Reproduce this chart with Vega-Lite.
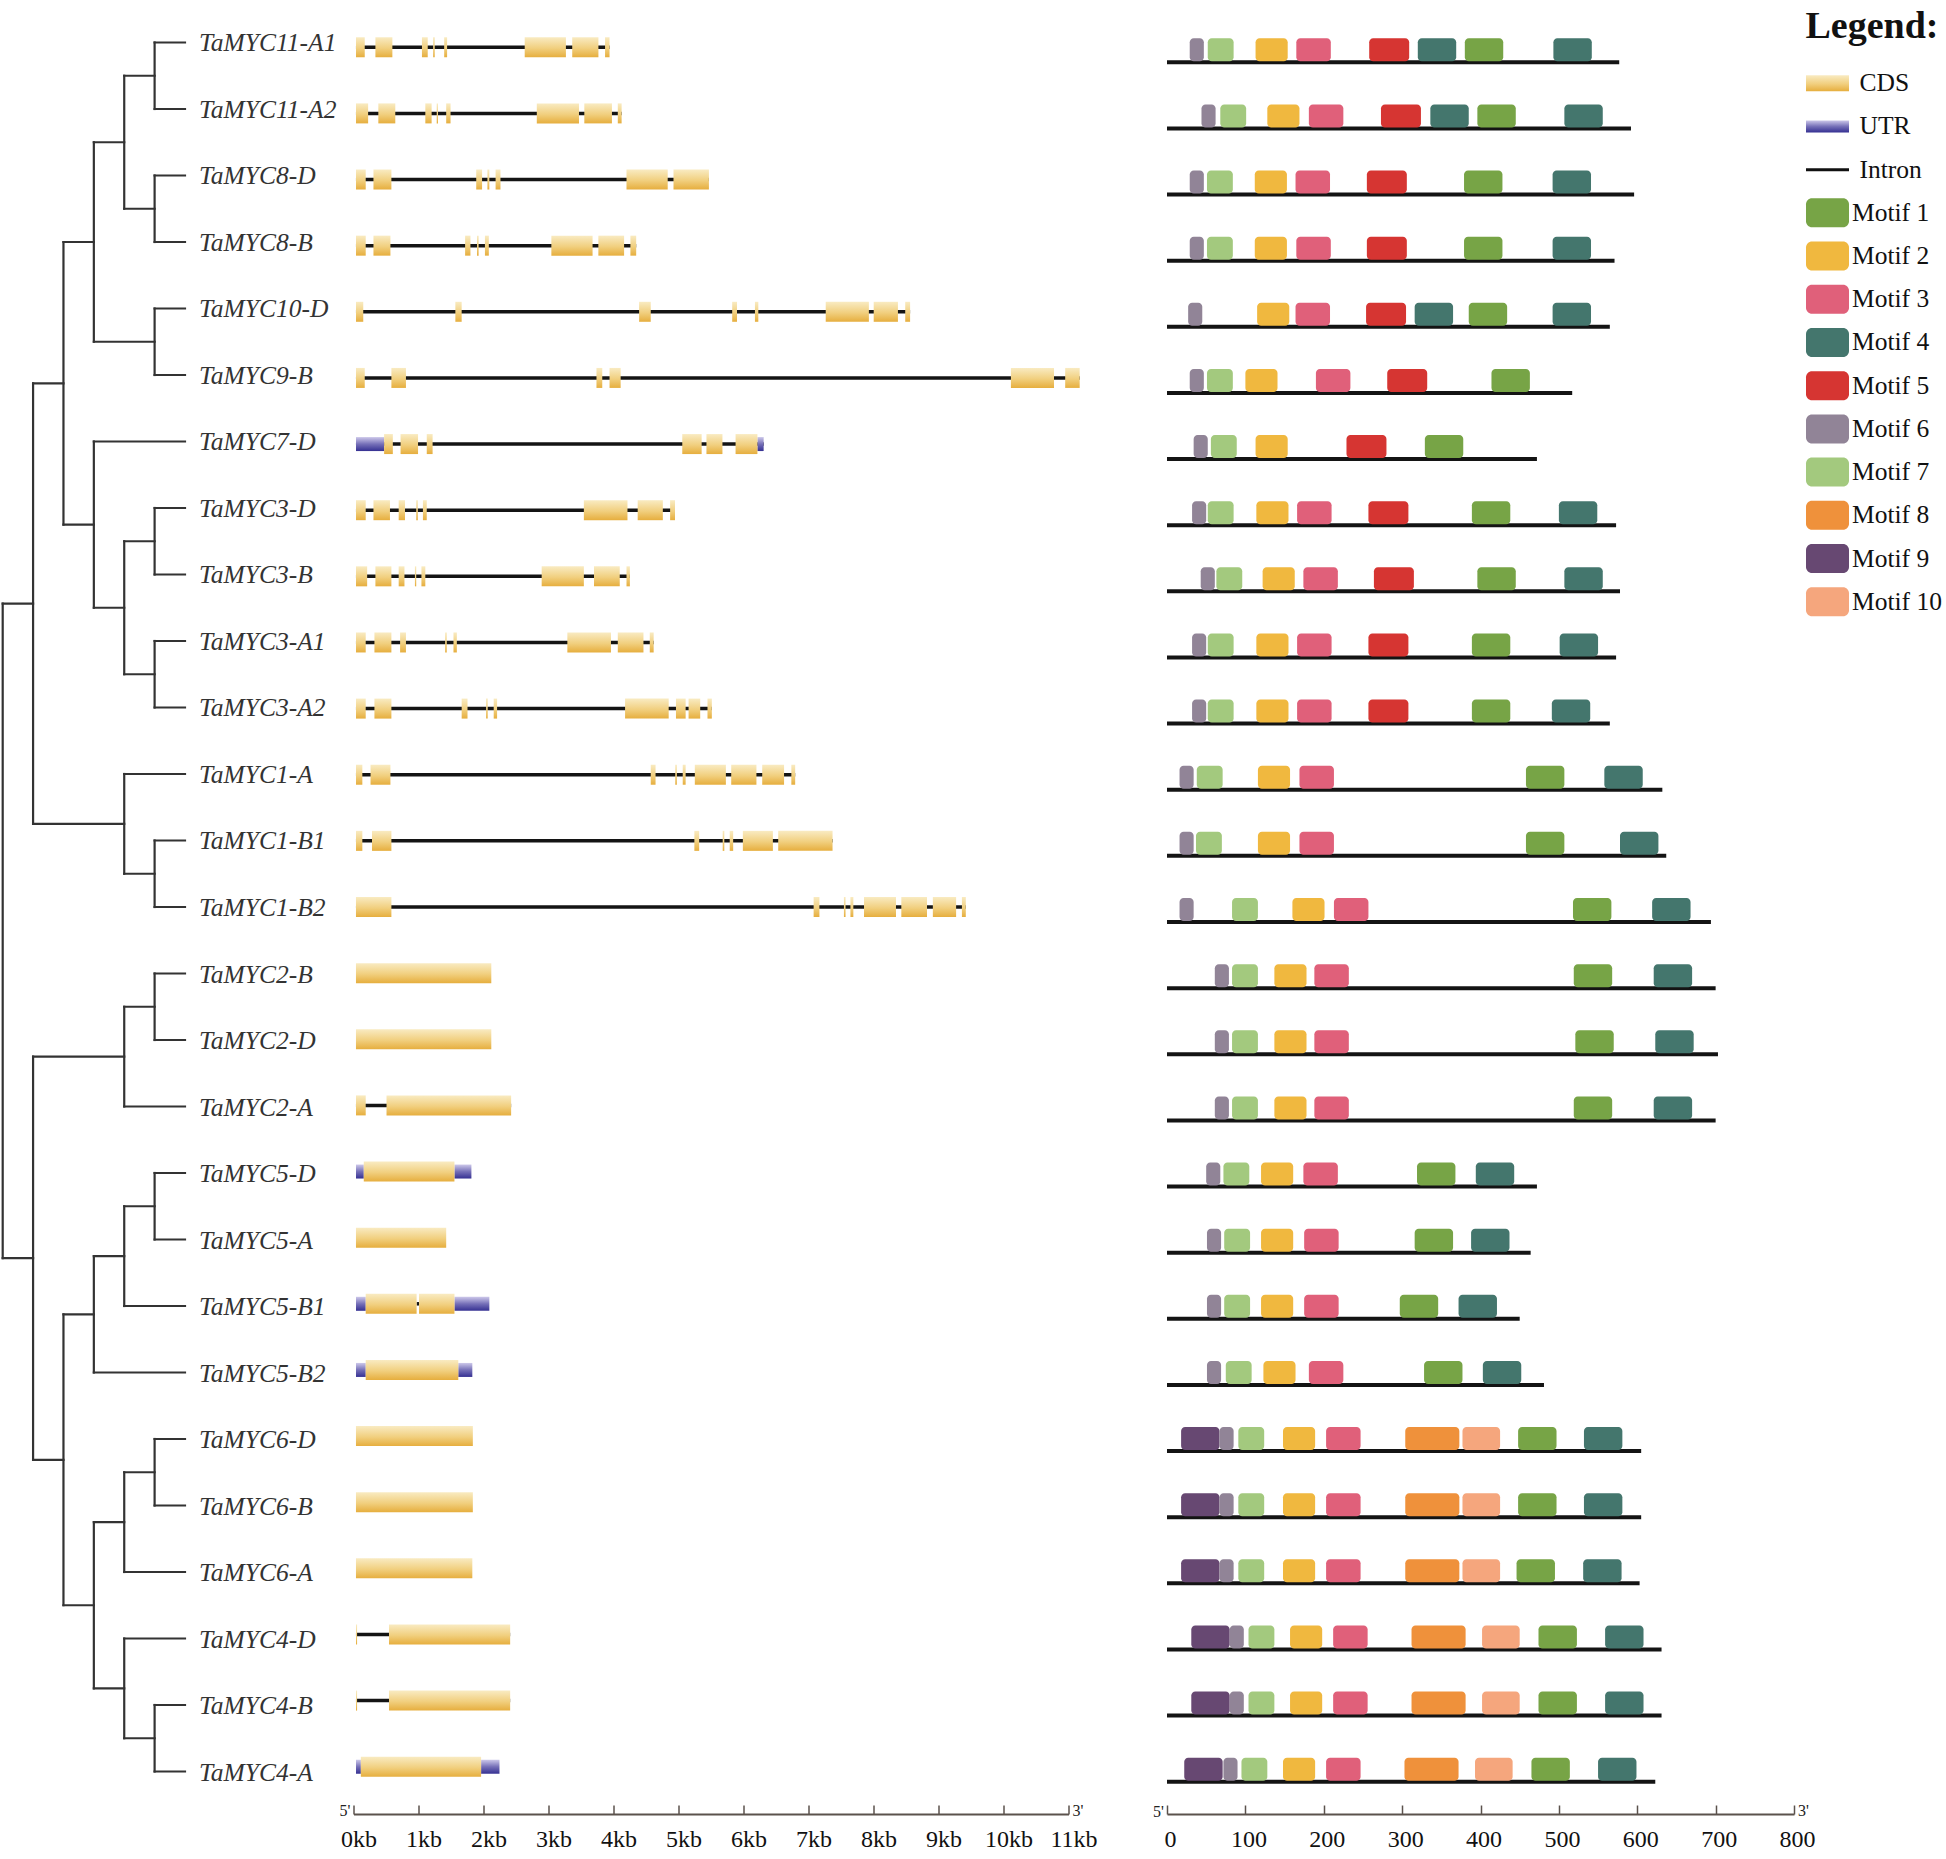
{
"$schema":"https://vega.github.io/schema/vega-lite/v6.json",
"padding":0,
"background":"#ffffff",
"bounds":"flush",
"spacing":98.5,
"config":{"view":{"stroke":null},"font":"Liberation Serif"},
"datasets":{
"genes":[{"r":0,"name":"TaMYC11-A1"},{"r":1,"name":"TaMYC11-A2"},{"r":2,"name":"TaMYC8-D"},{"r":3,"name":"TaMYC8-B"},{"r":4,"name":"TaMYC10-D"},{"r":5,"name":"TaMYC9-B"},{"r":6,"name":"TaMYC7-D"},{"r":7,"name":"TaMYC3-D"},{"r":8,"name":"TaMYC3-B"},{"r":9,"name":"TaMYC3-A1"},{"r":10,"name":"TaMYC3-A2"},{"r":11,"name":"TaMYC1-A"},{"r":12,"name":"TaMYC1-B1"},{"r":13,"name":"TaMYC1-B2"},{"r":14,"name":"TaMYC2-B"},{"r":15,"name":"TaMYC2-D"},{"r":16,"name":"TaMYC2-A"},{"r":17,"name":"TaMYC5-D"},{"r":18,"name":"TaMYC5-A"},{"r":19,"name":"TaMYC5-B1"},{"r":20,"name":"TaMYC5-B2"},{"r":21,"name":"TaMYC6-D"},{"r":22,"name":"TaMYC6-B"},{"r":23,"name":"TaMYC6-A"},{"r":24,"name":"TaMYC4-D"},{"r":25,"name":"TaMYC4-B"},{"r":26,"name":"TaMYC4-A"}],
"tree":[
{"x1":5,"x2":5,"y1":0,"y2":1},{"x1":5,"x2":6,"y1":0,"y2":0},{"x1":5,"x2":6,"y1":1,"y2":1},
{"x1":5,"x2":5,"y1":2,"y2":3},{"x1":5,"x2":6,"y1":2,"y2":2},{"x1":5,"x2":6,"y1":3,"y2":3},
{"x1":4,"x2":4,"y1":0.5,"y2":2.5},{"x1":4,"x2":5,"y1":0.5,"y2":0.5},{"x1":4,"x2":5,"y1":2.5,"y2":2.5},
{"x1":5,"x2":5,"y1":4,"y2":5},{"x1":5,"x2":6,"y1":4,"y2":4},{"x1":5,"x2":6,"y1":5,"y2":5},
{"x1":3,"x2":3,"y1":1.5,"y2":4.5},{"x1":3,"x2":4,"y1":1.5,"y2":1.5},{"x1":3,"x2":5,"y1":4.5,"y2":4.5},
{"x1":5,"x2":5,"y1":7,"y2":8},{"x1":5,"x2":6,"y1":7,"y2":7},{"x1":5,"x2":6,"y1":8,"y2":8},
{"x1":5,"x2":5,"y1":9,"y2":10},{"x1":5,"x2":6,"y1":9,"y2":9},{"x1":5,"x2":6,"y1":10,"y2":10},
{"x1":4,"x2":4,"y1":7.5,"y2":9.5},{"x1":4,"x2":5,"y1":7.5,"y2":7.5},{"x1":4,"x2":5,"y1":9.5,"y2":9.5},
{"x1":3,"x2":3,"y1":6,"y2":8.5},{"x1":3,"x2":6,"y1":6,"y2":6},{"x1":3,"x2":4,"y1":8.5,"y2":8.5},
{"x1":2,"x2":2,"y1":3,"y2":7.25},{"x1":2,"x2":3,"y1":3,"y2":3},{"x1":2,"x2":3,"y1":7.25,"y2":7.25},
{"x1":5,"x2":5,"y1":12,"y2":13},{"x1":5,"x2":6,"y1":12,"y2":12},{"x1":5,"x2":6,"y1":13,"y2":13},
{"x1":4,"x2":4,"y1":11,"y2":12.5},{"x1":4,"x2":6,"y1":11,"y2":11},{"x1":4,"x2":5,"y1":12.5,"y2":12.5},
{"x1":1,"x2":1,"y1":5.125,"y2":11.75},{"x1":1,"x2":2,"y1":5.125,"y2":5.125},{"x1":1,"x2":4,"y1":11.75,"y2":11.75},
{"x1":5,"x2":5,"y1":14,"y2":15},{"x1":5,"x2":6,"y1":14,"y2":14},{"x1":5,"x2":6,"y1":15,"y2":15},
{"x1":4,"x2":4,"y1":14.5,"y2":16},{"x1":4,"x2":5,"y1":14.5,"y2":14.5},{"x1":4,"x2":6,"y1":16,"y2":16},
{"x1":5,"x2":5,"y1":17,"y2":18},{"x1":5,"x2":6,"y1":17,"y2":17},{"x1":5,"x2":6,"y1":18,"y2":18},
{"x1":4,"x2":4,"y1":17.5,"y2":19},{"x1":4,"x2":5,"y1":17.5,"y2":17.5},{"x1":4,"x2":6,"y1":19,"y2":19},
{"x1":3,"x2":3,"y1":18.25,"y2":20},{"x1":3,"x2":4,"y1":18.25,"y2":18.25},{"x1":3,"x2":6,"y1":20,"y2":20},
{"x1":5,"x2":5,"y1":21,"y2":22},{"x1":5,"x2":6,"y1":21,"y2":21},{"x1":5,"x2":6,"y1":22,"y2":22},
{"x1":4,"x2":4,"y1":21.5,"y2":23},{"x1":4,"x2":5,"y1":21.5,"y2":21.5},{"x1":4,"x2":6,"y1":23,"y2":23},
{"x1":5,"x2":5,"y1":25,"y2":26},{"x1":5,"x2":6,"y1":25,"y2":25},{"x1":5,"x2":6,"y1":26,"y2":26},
{"x1":4,"x2":4,"y1":24,"y2":25.5},{"x1":4,"x2":6,"y1":24,"y2":24},{"x1":4,"x2":5,"y1":25.5,"y2":25.5},
{"x1":3,"x2":3,"y1":22.25,"y2":24.75},{"x1":3,"x2":4,"y1":22.25,"y2":22.25},{"x1":3,"x2":4,"y1":24.75,"y2":24.75},
{"x1":2,"x2":2,"y1":19.125,"y2":23.5},{"x1":2,"x2":3,"y1":19.125,"y2":19.125},{"x1":2,"x2":3,"y1":23.5,"y2":23.5},
{"x1":1,"x2":1,"y1":15.25,"y2":21.3125},{"x1":1,"x2":4,"y1":15.25,"y2":15.25},{"x1":1,"x2":2,"y1":21.3125,"y2":21.3125},
{"x1":0,"x2":0,"y1":8.4375,"y2":18.28125},{"x1":0,"x2":1,"y1":8.4375,"y2":8.4375},{"x1":0,"x2":1,"y1":18.28125,"y2":18.28125}
],
"introns":[{"r":0,"s":38,"e":3939},{"r":1,"s":38,"e":4125},{"r":2,"s":38,"e":5468},{"r":3,"s":38,"e":4349},{"r":4,"s":38,"e":8563},{"r":5,"s":38,"e":11172},{"r":6,"s":38,"e":6310},{"r":7,"s":38,"e":4946},{"r":8,"s":38,"e":4252},{"r":9,"s":38,"e":4618},{"r":10,"s":38,"e":5513},{"r":11,"s":38,"e":6795},{"r":12,"s":38,"e":7370},{"r":13,"s":38,"e":9420},{"r":16,"s":38,"e":2425},{"r":19,"s":971,"e":1008},{"r":24,"s":38,"e":2410},{"r":25,"s":38,"e":2410}],
"struct":[
{"r":0,"t":"CDS","s":38,"e":173},{"r":0,"t":"CDS","s":337,"e":598},{"r":0,"t":"CDS","s":1053,"e":1142},{"r":0,"t":"CDS","s":1225,"e":1250},{"r":0,"t":"CDS","s":1395,"e":1440},{"r":0,"t":"CDS","s":2634,"e":3268},{"r":0,"t":"CDS","s":3365,"e":3768},{"r":0,"t":"CDS","s":3870,"e":3939},
{"r":1,"t":"CDS","s":38,"e":225},{"r":1,"t":"CDS","s":382,"e":643},{"r":1,"t":"CDS","s":1105,"e":1202},{"r":1,"t":"CDS","s":1280,"e":1300},{"r":1,"t":"CDS","s":1426,"e":1493},{"r":1,"t":"CDS","s":2820,"e":3469},{"r":1,"t":"CDS","s":3551,"e":3976},{"r":1,"t":"CDS","s":4066,"e":4125},
{"r":2,"t":"CDS","s":38,"e":188},{"r":2,"t":"CDS","s":307,"e":583},{"r":2,"t":"CDS","s":1888,"e":1978},{"r":2,"t":"CDS","s":2060,"e":2090},{"r":2,"t":"CDS","s":2186,"e":2261},{"r":2,"t":"CDS","s":4200,"e":4834},{"r":2,"t":"CDS","s":4923,"e":5468},
{"r":3,"t":"CDS","s":38,"e":188},{"r":3,"t":"CDS","s":307,"e":568},{"r":3,"t":"CDS","s":1717,"e":1799},{"r":3,"t":"CDS","s":1900,"e":1925},{"r":3,"t":"CDS","s":2022,"e":2082},{"r":3,"t":"CDS","s":3044,"e":3678},{"r":3,"t":"CDS","s":3767,"e":4163},{"r":3,"t":"CDS","s":4260,"e":4349},
{"r":4,"t":"CDS","s":38,"e":150},{"r":4,"t":"CDS","s":1567,"e":1664},{"r":4,"t":"CDS","s":4394,"e":4573},{"r":4,"t":"CDS","s":5826,"e":5900},{"r":4,"t":"CDS","s":6176,"e":6228},{"r":4,"t":"CDS","s":7265,"e":7929},{"r":4,"t":"CDS","s":8003,"e":8376},{"r":4,"t":"CDS","s":8488,"e":8563},
{"r":5,"t":"CDS","s":38,"e":173},{"r":5,"t":"CDS","s":583,"e":807},{"r":5,"t":"CDS","s":3738,"e":3827},{"r":5,"t":"CDS","s":3939,"e":4110},{"r":5,"t":"CDS","s":10114,"e":10777},{"r":5,"t":"CDS","s":10949,"e":11172},
{"r":6,"t":"UTR","s":38,"e":471},{"r":6,"t":"CDS","s":471,"e":605},{"r":6,"t":"CDS","s":724,"e":993},{"r":6,"t":"CDS","s":1127,"e":1217},{"r":6,"t":"CDS","s":5058,"e":5356},{"r":6,"t":"CDS","s":5430,"e":5676},{"r":6,"t":"CDS","s":5878,"e":6214},{"r":6,"t":"UTR","s":6214,"e":6310},
{"r":7,"t":"CDS","s":38,"e":188},{"r":7,"t":"CDS","s":307,"e":561},{"r":7,"t":"CDS","s":695,"e":792},{"r":7,"t":"CDS","s":965,"e":990},{"r":7,"t":"CDS","s":1068,"e":1127},{"r":7,"t":"CDS","s":3544,"e":4215},{"r":7,"t":"CDS","s":4372,"e":4759},{"r":7,"t":"CDS","s":4871,"e":4946},
{"r":8,"t":"CDS","s":38,"e":210},{"r":8,"t":"CDS","s":337,"e":583},{"r":8,"t":"CDS","s":695,"e":784},{"r":8,"t":"CDS","s":945,"e":965},{"r":8,"t":"CDS","s":1045,"e":1105},{"r":8,"t":"CDS","s":2895,"e":3544},{"r":8,"t":"CDS","s":3700,"e":4096},{"r":8,"t":"CDS","s":4200,"e":4252},
{"r":9,"t":"CDS","s":38,"e":188},{"r":9,"t":"CDS","s":322,"e":583},{"r":9,"t":"CDS","s":717,"e":807},{"r":9,"t":"CDS","s":1410,"e":1435},{"r":9,"t":"CDS","s":1538,"e":1590},{"r":9,"t":"CDS","s":3290,"e":3961},{"r":9,"t":"CDS","s":4066,"e":4461},{"r":9,"t":"CDS","s":4558,"e":4618},
{"r":10,"t":"CDS","s":38,"e":188},{"r":10,"t":"CDS","s":322,"e":583},{"r":10,"t":"CDS","s":1664,"e":1754},{"r":10,"t":"CDS","s":2040,"e":2065},{"r":10,"t":"CDS","s":2157,"e":2209},{"r":10,"t":"CDS","s":4178,"e":4849},{"r":10,"t":"CDS","s":4961,"e":5110},{"r":10,"t":"CDS","s":5155,"e":5334},{"r":10,"t":"CDS","s":5446,"e":5513},
{"r":11,"t":"CDS","s":38,"e":136},{"r":11,"t":"CDS","s":262,"e":568},{"r":11,"t":"CDS","s":4573,"e":4647},{"r":11,"t":"CDS","s":4950,"e":4975},{"r":11,"t":"CDS","s":5065,"e":5110},{"r":11,"t":"CDS","s":5251,"e":5729},{"r":11,"t":"CDS","s":5811,"e":6199},{"r":11,"t":"CDS","s":6288,"e":6624},{"r":11,"t":"CDS","s":6736,"e":6795},
{"r":12,"t":"CDS","s":38,"e":136},{"r":12,"t":"CDS","s":285,"e":583},{"r":12,"t":"CDS","s":5244,"e":5318},{"r":12,"t":"CDS","s":5680,"e":5705},{"r":12,"t":"CDS","s":5788,"e":5841},{"r":12,"t":"CDS","s":5990,"e":6452},{"r":12,"t":"CDS","s":6534,"e":7370},
{"r":13,"t":"CDS","s":38,"e":583},{"r":13,"t":"CDS","s":7079,"e":7168},{"r":13,"t":"CDS","s":7545,"e":7570},{"r":13,"t":"CDS","s":7645,"e":7690},{"r":13,"t":"CDS","s":7854,"e":8346},{"r":13,"t":"CDS","s":8428,"e":8823},{"r":13,"t":"CDS","s":8913,"e":9271},{"r":13,"t":"CDS","s":9360,"e":9420},
{"r":14,"t":"CDS","s":38,"e":2120},
{"r":15,"t":"CDS","s":38,"e":2120},
{"r":16,"t":"CDS","s":38,"e":188},{"r":16,"t":"CDS","s":508,"e":2425},
{"r":17,"t":"UTR","s":38,"e":158},{"r":17,"t":"CDS","s":158,"e":1553},{"r":17,"t":"UTR","s":1553,"e":1814},
{"r":18,"t":"CDS","s":38,"e":1426},
{"r":19,"t":"UTR","s":38,"e":188},{"r":19,"t":"CDS","s":188,"e":971},{"r":19,"t":"CDS","s":1008,"e":1553},{"r":19,"t":"UTR","s":1553,"e":2090},
{"r":20,"t":"UTR","s":38,"e":188},{"r":20,"t":"CDS","s":188,"e":1612},{"r":20,"t":"UTR","s":1612,"e":1828},
{"r":21,"t":"CDS","s":38,"e":1836},
{"r":22,"t":"CDS","s":38,"e":1836},
{"r":23,"t":"CDS","s":38,"e":1828},
{"r":24,"t":"CDS","s":38,"e":55},{"r":24,"t":"CDS","s":546,"e":2410},
{"r":25,"t":"CDS","s":38,"e":55},{"r":25,"t":"CDS","s":546,"e":2410},
{"r":26,"t":"UTR","s":38,"e":113},{"r":26,"t":"CDS","s":113,"e":1963},{"r":26,"t":"UTR","s":1963,"e":2246}
],
"proteins":[{"r":0,"s":0,"e":577},{"r":1,"s":0,"e":592},{"r":2,"s":0,"e":596},{"r":3,"s":0,"e":571},{"r":4,"s":0,"e":565},{"r":5,"s":0,"e":517},{"r":6,"s":0,"e":472},{"r":7,"s":0,"e":573},{"r":8,"s":0,"e":578},{"r":9,"s":0,"e":573},{"r":10,"s":0,"e":565},{"r":11,"s":0,"e":632},{"r":12,"s":0,"e":637},{"r":13,"s":0,"e":694},{"r":14,"s":0,"e":700},{"r":15,"s":0,"e":703},{"r":16,"s":0,"e":700},{"r":17,"s":0,"e":472},{"r":18,"s":0,"e":464},{"r":19,"s":0,"e":450},{"r":20,"s":0,"e":481},{"r":21,"s":0,"e":605},{"r":22,"s":0,"e":605},{"r":23,"s":0,"e":603},{"r":24,"s":0,"e":631},{"r":25,"s":0,"e":631},{"r":26,"s":0,"e":623}],
"motifs":[
{"r":0,"m":"Motif 6","s":29,"e":47},{"r":0,"m":"Motif 7","s":52,"e":85},{"r":0,"m":"Motif 2","s":113,"e":154},{"r":0,"m":"Motif 3","s":165,"e":209},{"r":0,"m":"Motif 5","s":258,"e":309},{"r":0,"m":"Motif 4","s":320,"e":369},{"r":0,"m":"Motif 1","s":380,"e":429},{"r":0,"m":"Motif 4","s":493,"e":542},
{"r":1,"m":"Motif 6","s":44,"e":62},{"r":1,"m":"Motif 7","s":68,"e":101},{"r":1,"m":"Motif 2","s":128,"e":169},{"r":1,"m":"Motif 3","s":181,"e":225},{"r":1,"m":"Motif 5","s":273,"e":324},{"r":1,"m":"Motif 4","s":336,"e":385},{"r":1,"m":"Motif 1","s":396,"e":445},{"r":1,"m":"Motif 4","s":507,"e":556},
{"r":2,"m":"Motif 6","s":29,"e":47},{"r":2,"m":"Motif 7","s":51,"e":84},{"r":2,"m":"Motif 2","s":112,"e":153},{"r":2,"m":"Motif 3","s":164,"e":208},{"r":2,"m":"Motif 5","s":255,"e":306},{"r":2,"m":"Motif 1","s":379,"e":428},{"r":2,"m":"Motif 4","s":492,"e":541},
{"r":3,"m":"Motif 6","s":29,"e":47},{"r":3,"m":"Motif 7","s":51,"e":84},{"r":3,"m":"Motif 2","s":112,"e":153},{"r":3,"m":"Motif 3","s":165,"e":209},{"r":3,"m":"Motif 5","s":255,"e":306},{"r":3,"m":"Motif 1","s":379,"e":428},{"r":3,"m":"Motif 4","s":492,"e":541},
{"r":4,"m":"Motif 6","s":27,"e":45},{"r":4,"m":"Motif 2","s":115,"e":156},{"r":4,"m":"Motif 3","s":164,"e":208},{"r":4,"m":"Motif 5","s":254,"e":305},{"r":4,"m":"Motif 4","s":316,"e":365},{"r":4,"m":"Motif 1","s":385,"e":434},{"r":4,"m":"Motif 4","s":492,"e":541},
{"r":5,"m":"Motif 6","s":29,"e":47},{"r":5,"m":"Motif 7","s":51,"e":84},{"r":5,"m":"Motif 2","s":100,"e":141},{"r":5,"m":"Motif 3","s":190,"e":234},{"r":5,"m":"Motif 5","s":281,"e":332},{"r":5,"m":"Motif 1","s":414,"e":463},
{"r":6,"m":"Motif 6","s":34,"e":52},{"r":6,"m":"Motif 7","s":56,"e":89},{"r":6,"m":"Motif 2","s":113,"e":154},{"r":6,"m":"Motif 5","s":229,"e":280},{"r":6,"m":"Motif 1","s":329,"e":378},
{"r":7,"m":"Motif 6","s":32,"e":50},{"r":7,"m":"Motif 7","s":52,"e":85},{"r":7,"m":"Motif 2","s":114,"e":155},{"r":7,"m":"Motif 3","s":166,"e":210},{"r":7,"m":"Motif 5","s":257,"e":308},{"r":7,"m":"Motif 1","s":389,"e":438},{"r":7,"m":"Motif 4","s":500,"e":549},
{"r":8,"m":"Motif 6","s":43,"e":61},{"r":8,"m":"Motif 7","s":63,"e":96},{"r":8,"m":"Motif 2","s":122,"e":163},{"r":8,"m":"Motif 3","s":174,"e":218},{"r":8,"m":"Motif 5","s":264,"e":315},{"r":8,"m":"Motif 1","s":396,"e":445},{"r":8,"m":"Motif 4","s":507,"e":556},
{"r":9,"m":"Motif 6","s":32,"e":50},{"r":9,"m":"Motif 7","s":52,"e":85},{"r":9,"m":"Motif 2","s":114,"e":155},{"r":9,"m":"Motif 3","s":166,"e":210},{"r":9,"m":"Motif 5","s":257,"e":308},{"r":9,"m":"Motif 1","s":389,"e":438},{"r":9,"m":"Motif 4","s":501,"e":550},
{"r":10,"m":"Motif 6","s":32,"e":50},{"r":10,"m":"Motif 7","s":52,"e":85},{"r":10,"m":"Motif 2","s":114,"e":155},{"r":10,"m":"Motif 3","s":166,"e":210},{"r":10,"m":"Motif 5","s":257,"e":308},{"r":10,"m":"Motif 1","s":389,"e":438},{"r":10,"m":"Motif 4","s":491,"e":540},
{"r":11,"m":"Motif 6","s":16,"e":34},{"r":11,"m":"Motif 7","s":38,"e":71},{"r":11,"m":"Motif 2","s":116,"e":157},{"r":11,"m":"Motif 3","s":169,"e":213},{"r":11,"m":"Motif 1","s":458,"e":507},{"r":11,"m":"Motif 4","s":558,"e":607},
{"r":12,"m":"Motif 6","s":16,"e":34},{"r":12,"m":"Motif 7","s":37,"e":70},{"r":12,"m":"Motif 2","s":116,"e":157},{"r":12,"m":"Motif 3","s":169,"e":213},{"r":12,"m":"Motif 1","s":458,"e":507},{"r":12,"m":"Motif 4","s":578,"e":627},
{"r":13,"m":"Motif 6","s":16,"e":34},{"r":13,"m":"Motif 7","s":83,"e":116},{"r":13,"m":"Motif 2","s":160,"e":201},{"r":13,"m":"Motif 3","s":213,"e":257},{"r":13,"m":"Motif 1","s":518,"e":567},{"r":13,"m":"Motif 4","s":619,"e":668},
{"r":14,"m":"Motif 6","s":61,"e":79},{"r":14,"m":"Motif 7","s":83,"e":116},{"r":14,"m":"Motif 2","s":137,"e":178},{"r":14,"m":"Motif 3","s":188,"e":232},{"r":14,"m":"Motif 1","s":519,"e":568},{"r":14,"m":"Motif 4","s":621,"e":670},
{"r":15,"m":"Motif 6","s":61,"e":79},{"r":15,"m":"Motif 7","s":83,"e":116},{"r":15,"m":"Motif 2","s":137,"e":178},{"r":15,"m":"Motif 3","s":188,"e":232},{"r":15,"m":"Motif 1","s":521,"e":570},{"r":15,"m":"Motif 4","s":623,"e":672},
{"r":16,"m":"Motif 6","s":61,"e":79},{"r":16,"m":"Motif 7","s":83,"e":116},{"r":16,"m":"Motif 2","s":137,"e":178},{"r":16,"m":"Motif 3","s":188,"e":232},{"r":16,"m":"Motif 1","s":519,"e":568},{"r":16,"m":"Motif 4","s":621,"e":670},
{"r":17,"m":"Motif 6","s":50,"e":68},{"r":17,"m":"Motif 7","s":72,"e":105},{"r":17,"m":"Motif 2","s":120,"e":161},{"r":17,"m":"Motif 3","s":174,"e":218},{"r":17,"m":"Motif 1","s":319,"e":368},{"r":17,"m":"Motif 4","s":394,"e":443},
{"r":18,"m":"Motif 6","s":51,"e":69},{"r":18,"m":"Motif 7","s":73,"e":106},{"r":18,"m":"Motif 2","s":120,"e":161},{"r":18,"m":"Motif 3","s":175,"e":219},{"r":18,"m":"Motif 1","s":316,"e":365},{"r":18,"m":"Motif 4","s":388,"e":437},
{"r":19,"m":"Motif 6","s":51,"e":69},{"r":19,"m":"Motif 7","s":73,"e":106},{"r":19,"m":"Motif 2","s":120,"e":161},{"r":19,"m":"Motif 3","s":175,"e":219},{"r":19,"m":"Motif 1","s":297,"e":346},{"r":19,"m":"Motif 4","s":372,"e":421},
{"r":20,"m":"Motif 6","s":51,"e":69},{"r":20,"m":"Motif 7","s":75,"e":108},{"r":20,"m":"Motif 2","s":123,"e":164},{"r":20,"m":"Motif 3","s":181,"e":225},{"r":20,"m":"Motif 1","s":328,"e":377},{"r":20,"m":"Motif 4","s":403,"e":452},
{"r":21,"m":"Motif 9","s":18,"e":67},{"r":21,"m":"Motif 6","s":67,"e":85},{"r":21,"m":"Motif 7","s":91,"e":124},{"r":21,"m":"Motif 2","s":148,"e":189},{"r":21,"m":"Motif 3","s":203,"e":247},{"r":21,"m":"Motif 8","s":304,"e":373},{"r":21,"m":"Motif 10","s":377,"e":425},{"r":21,"m":"Motif 1","s":448,"e":497},{"r":21,"m":"Motif 4","s":532,"e":581},
{"r":22,"m":"Motif 9","s":18,"e":67},{"r":22,"m":"Motif 6","s":67,"e":85},{"r":22,"m":"Motif 7","s":91,"e":124},{"r":22,"m":"Motif 2","s":148,"e":189},{"r":22,"m":"Motif 3","s":203,"e":247},{"r":22,"m":"Motif 8","s":304,"e":373},{"r":22,"m":"Motif 10","s":377,"e":425},{"r":22,"m":"Motif 1","s":448,"e":497},{"r":22,"m":"Motif 4","s":532,"e":581},
{"r":23,"m":"Motif 9","s":18,"e":67},{"r":23,"m":"Motif 6","s":67,"e":85},{"r":23,"m":"Motif 7","s":91,"e":124},{"r":23,"m":"Motif 2","s":148,"e":189},{"r":23,"m":"Motif 3","s":203,"e":247},{"r":23,"m":"Motif 8","s":304,"e":373},{"r":23,"m":"Motif 10","s":377,"e":425},{"r":23,"m":"Motif 1","s":446,"e":495},{"r":23,"m":"Motif 4","s":531,"e":580},
{"r":24,"m":"Motif 9","s":31,"e":80},{"r":24,"m":"Motif 6","s":80,"e":98},{"r":24,"m":"Motif 7","s":104,"e":137},{"r":24,"m":"Motif 2","s":157,"e":198},{"r":24,"m":"Motif 3","s":212,"e":256},{"r":24,"m":"Motif 8","s":312,"e":381},{"r":24,"m":"Motif 10","s":402,"e":450},{"r":24,"m":"Motif 1","s":474,"e":523},{"r":24,"m":"Motif 4","s":559,"e":608},
{"r":25,"m":"Motif 9","s":31,"e":80},{"r":25,"m":"Motif 6","s":80,"e":98},{"r":25,"m":"Motif 7","s":104,"e":137},{"r":25,"m":"Motif 2","s":157,"e":198},{"r":25,"m":"Motif 3","s":212,"e":256},{"r":25,"m":"Motif 8","s":312,"e":381},{"r":25,"m":"Motif 10","s":402,"e":450},{"r":25,"m":"Motif 1","s":474,"e":523},{"r":25,"m":"Motif 4","s":559,"e":608},
{"r":26,"m":"Motif 9","s":22,"e":71},{"r":26,"m":"Motif 6","s":72,"e":90},{"r":26,"m":"Motif 7","s":95,"e":128},{"r":26,"m":"Motif 2","s":148,"e":189},{"r":26,"m":"Motif 3","s":203,"e":247},{"r":26,"m":"Motif 8","s":303,"e":372},{"r":26,"m":"Motif 10","s":393,"e":441},{"r":26,"m":"Motif 1","s":465,"e":514},{"r":26,"m":"Motif 4","s":550,"e":599}
],
"legend":[{"i":0,"label":"CDS","k":"CDS"},{"i":1,"label":"UTR","k":"UTR"},{"i":2,"label":"Intron","k":"Intron"},{"i":3,"label":"Motif 1","k":"Motif"},{"i":4,"label":"Motif 2","k":"Motif"},{"i":5,"label":"Motif 3","k":"Motif"},{"i":6,"label":"Motif 4","k":"Motif"},{"i":7,"label":"Motif 5","k":"Motif"},{"i":8,"label":"Motif 6","k":"Motif"},{"i":9,"label":"Motif 7","k":"Motif"},{"i":10,"label":"Motif 8","k":"Motif"},{"i":11,"label":"Motif 9","k":"Motif"},{"i":12,"label":"Motif 10","k":"Motif"}]
},
"resolve":{"scale":{"x":"independent","y":"independent","color":"independent"}},
"hconcat":[
{
"width":254.5,"height":1814,
"layer":[
{"data":{"name":"tree"},"mark":{"type":"rule","color":"#333333","strokeWidth":2.2,"strokeCap":"square"},
"encoding":{"x":{"field":"x1","type":"quantitative","scale":{"domain":[-0.0889,8.288],"nice":false,"zero":false},"axis":null},"x2":{"field":"x2"},
"y":{"field":"y1","type":"quantitative","scale":{"domain":[-0.639,26.639],"reverse":true,"nice":false,"zero":false},"axis":null},"y2":{"field":"y2"}}},
{"data":{"name":"genes"},"mark":{"type":"text","align":"left","baseline":"middle","dx":14,"dy":1,"fontStyle":"italic","fontSize":25.5,"font":"Liberation Serif","color":"#333333"},
"encoding":{"x":{"datum":6,"type":"quantitative","axis":null},"y":{"field":"r","type":"quantitative","axis":null},"text":{"field":"name"}}}
]
},
{
"width":715,"height":1814,
"layer":[
{"data":{"name":"introns"},"mark":{"type":"rule","color":"#141414","strokeWidth":3.5},
"encoding":{"x":{"field":"s","type":"quantitative","scale":{"domain":[0,11000],"nice":false,"zero":false},
"axis":{"values":[0,1000,2000,3000,4000,5000,6000,7000,8000,9000,10000,11000],"labelExpr":"(datum.value/1000) + 'kb'","title":null,"grid":false,"domainColor":"#5b524c","domainWidth":2,"tickColor":"#5b524c","tickWidth":1.5,"tickSize":-9,"labelPadding":22,"labelOffset":5,"labelFont":"Liberation Serif","labelFontSize":24,"labelColor":"#111111","labelFlush":false,"labelOverlap":false}},
"x2":{"field":"e"},
"y":{"field":"r","type":"quantitative","scale":{"domain":[-0.639,26.639],"reverse":true,"nice":false,"zero":false},"axis":null}}},
{"data":{"name":"struct"},"transform":[{"filter":"datum.t === 'UTR'"}],
"mark":{"type":"bar","orient":"horizontal","size":14,"color":{"x1":0,"y1":0,"x2":0,"y2":1,"gradient":"linear","stops":[{"offset":0,"color":"#cdc8ea"},{"offset":0.5,"color":"#7670b8"},{"offset":1,"color":"#353092"}]}},
"encoding":{"x":{"field":"s","type":"quantitative"},"x2":{"field":"e"},"y":{"field":"r","type":"quantitative","axis":null}}},
{"data":{"name":"struct"},"transform":[{"filter":"datum.t === 'CDS'"}],
"mark":{"type":"bar","orient":"horizontal","size":20,"color":{"x1":0,"y1":0,"x2":0,"y2":1,"gradient":"linear","stops":[{"offset":0,"color":"#f9ebc2"},{"offset":0.55,"color":"#f1cf7e"},{"offset":1,"color":"#e6ae3e"}]}},
"encoding":{"x":{"field":"s","type":"quantitative"},"x2":{"field":"e"},"y":{"field":"r","type":"quantitative","axis":null}}},
{"data":{"values":[{"s":0,"lab":"5'"}]},"mark":{"type":"text","y":"height","align":"right","baseline":"middle","dx":-3,"dy":-3,"fontSize":16,"color":"#222222"},
"encoding":{"x":{"field":"s","type":"quantitative"},"text":{"field":"lab"}}},
{"data":{"values":[{"s":11000,"lab":"3'"}]},"mark":{"type":"text","y":"height","align":"left","baseline":"middle","dx":4,"dy":-3,"fontSize":16,"color":"#222222"},
"encoding":{"x":{"field":"s","type":"quantitative"},"text":{"field":"lab"}}}
]
},
{
"bounds":"flush",
"spacing":0,
"resolve":{"scale":{"x":"independent","y":"independent","color":"independent"}},
"hconcat":[
{
"width":627,"height":1814,
"layer":[
{"data":{"name":"proteins"},"mark":{"type":"rule","color":"#141414","strokeWidth":4,"yOffset":15},
"encoding":{"x":{"field":"s","type":"quantitative","scale":{"domain":[0,800],"nice":false,"zero":false},
"axis":{"values":[0,100,200,300,400,500,600,700,800],"title":null,"grid":false,"domainColor":"#5b524c","domainWidth":2,"tickColor":"#5b524c","tickWidth":1.5,"tickSize":-9,"labelPadding":22,"labelOffset":3,"labelFont":"Liberation Serif","labelFontSize":24,"labelColor":"#111111","labelFlush":false,"labelOverlap":false}},
"x2":{"field":"e"},
"y":{"field":"r","type":"quantitative","scale":{"domain":[-0.639,26.639],"reverse":true,"nice":false,"zero":false},"axis":null}}},
{"data":{"name":"motifs"},"mark":{"type":"bar","orient":"horizontal","size":23,"cornerRadius":4,"yOffset":2.5,"opacity":1},
"encoding":{"x":{"field":"s","type":"quantitative"},"x2":{"field":"e"},"y":{"field":"r","type":"quantitative","axis":null},
"color":{"field":"m","type":"nominal","legend":null,"scale":{"domain":["Motif 1","Motif 2","Motif 3","Motif 4","Motif 5","Motif 6","Motif 7","Motif 8","Motif 9","Motif 10"],"range":["#77a446","#f0b83f","#e0607a","#44766d","#d63532","#918497","#a3c97e","#ef913b","#674872","#f5a67d"]}}}},
{"data":{"values":[{"s":0,"lab":"5'"}]},"mark":{"type":"text","y":"height","align":"right","baseline":"middle","dx":-3,"dy":-2,"fontSize":16,"color":"#222222"},
"encoding":{"x":{"field":"s","type":"quantitative"},"text":{"field":"lab"}}},
{"data":{"values":[{"s":800,"lab":"3'"}]},"mark":{"type":"text","y":"height","align":"left","baseline":"middle","dx":4,"dy":-3,"fontSize":16,"color":"#222222"},
"encoding":{"x":{"field":"s","type":"quantitative"},"text":{"field":"lab"}}}
]
},
{
"width":152.5,"height":1814,
"layer":[
{"data":{"values":[{"lab":"Legend:"}]},"mark":{"type":"text","align":"left","baseline":"middle","fontSize":38,"fontWeight":"bold","color":"#111111"},
"encoding":{"x":{"datum":11.5,"type":"quantitative","scale":{"domain":[0,152.5],"nice":false,"zero":false},"axis":null},
"y":{"datum":-1.304,"type":"quantitative","scale":{"domain":[-1.81,39.939],"reverse":true,"nice":false,"zero":false},"axis":null},"text":{"field":"lab"}}},
{"data":{"name":"legend"},"transform":[{"filter":"datum.k === 'CDS'"}],
"mark":{"type":"bar","orient":"horizontal","size":16,"color":{"x1":0,"y1":0,"x2":0,"y2":1,"gradient":"linear","stops":[{"offset":0,"color":"#f9ebc2"},{"offset":0.55,"color":"#f1cf7e"},{"offset":1,"color":"#e6ae3e"}]}},
"encoding":{"x":{"datum":12,"type":"quantitative","axis":null},"x2":{"datum":55},"y":{"field":"i","type":"quantitative","axis":null}}},
{"data":{"name":"legend"},"transform":[{"filter":"datum.k === 'UTR'"}],
"mark":{"type":"bar","orient":"horizontal","size":12,"color":{"x1":0,"y1":0,"x2":0,"y2":1,"gradient":"linear","stops":[{"offset":0,"color":"#cdc8ea"},{"offset":0.5,"color":"#7670b8"},{"offset":1,"color":"#353092"}]}},
"encoding":{"x":{"datum":12,"type":"quantitative","axis":null},"x2":{"datum":55},"y":{"field":"i","type":"quantitative","axis":null}}},
{"data":{"name":"legend"},"transform":[{"filter":"datum.k === 'Intron'"}],
"mark":{"type":"rule","color":"#111111","strokeWidth":3},
"encoding":{"x":{"datum":12,"type":"quantitative","axis":null},"x2":{"datum":55},"y":{"field":"i","type":"quantitative","axis":null}}},
{"data":{"name":"legend"},"transform":[{"filter":"datum.k === 'Motif'"}],
"mark":{"type":"bar","orient":"horizontal","size":29,"cornerRadius":6,"opacity":1},
"encoding":{"x":{"datum":12,"type":"quantitative","axis":null},"x2":{"datum":55},"y":{"field":"i","type":"quantitative","axis":null},
"color":{"field":"label","type":"nominal","legend":null,"scale":{"domain":["Motif 1","Motif 2","Motif 3","Motif 4","Motif 5","Motif 6","Motif 7","Motif 8","Motif 9","Motif 10"],"range":["#77a446","#f0b83f","#e0607a","#44766d","#d63532","#918497","#a3c97e","#ef913b","#674872","#f5a67d"]}}}},
{"data":{"name":"legend"},"transform":[{"filter":"datum.k !== 'Motif'"}],
"mark":{"type":"text","align":"left","baseline":"middle","fontSize":25.5,"color":"#111111"},
"encoding":{"x":{"datum":65.5,"type":"quantitative","axis":null},"y":{"field":"i","type":"quantitative","axis":null},"text":{"field":"label"}}},
{"data":{"name":"legend"},"transform":[{"filter":"datum.k === 'Motif'"}],
"mark":{"type":"text","align":"left","baseline":"middle","fontSize":25.5,"color":"#111111"},
"encoding":{"x":{"datum":58,"type":"quantitative","axis":null},"y":{"field":"i","type":"quantitative","axis":null},"text":{"field":"label"}}}
]
}
]
}
]
}
